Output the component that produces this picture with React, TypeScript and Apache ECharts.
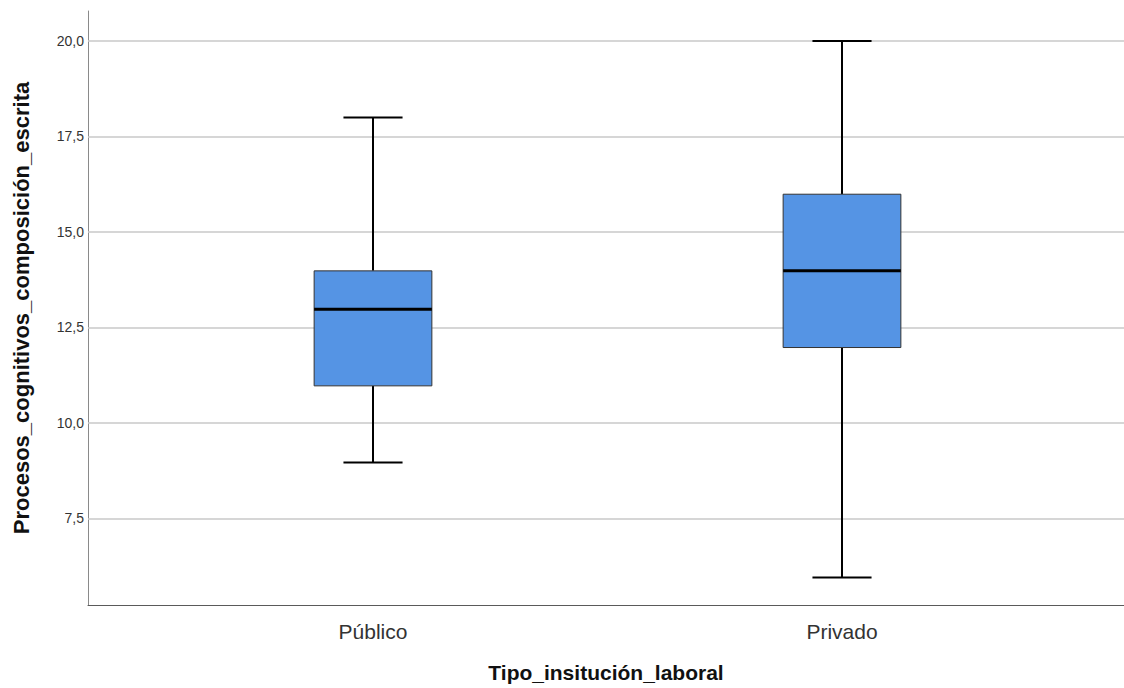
import React, { useEffect, useRef } from "react";
import * as echarts from "echarts";

const categories = ["Público", "Privado"];
// [min, Q1, median, Q3, max]
const boxStats = [
  [9, 11, 13, 14, 18],
  [6, 12, 14, 16, 20],
];
const yTicks = [7.5, 10, 12.5, 15, 17.5, 20];
const yMin = 5.23;
const yMax = 20.78;
const yTitle = "Procesos_cognitivos_composición_escrita";
const xTitle = "Tipo_insitución_laboral";

export default function App() {
  const ref = useRef<HTMLDivElement>(null);
  useEffect(() => {
    if (!ref.current) return;
    const chart = echarts.init(ref.current, null, { renderer: "svg" });
    const fmt = (v: number) => v.toFixed(1).replace(".", ",");
    chart.setOption({
      animation: false,
      backgroundColor: "#ffffff",
      grid: [
        { left: 88, top: 11, width: 1036, height: 596 },
        { left: 138.5, top: 11, width: 938, height: 596 },
      ],
      xAxis: [
        {
          type: "value",
          gridIndex: 0,
          min: 0,
          max: 1,
          axisLine: { show: true, lineStyle: { color: "#5a5a5a", width: 1 } },
          axisTick: { show: false },
          axisLabel: { show: false },
          splitLine: { show: false },
          name: xTitle,
          nameLocation: "middle",
          nameGap: 57,
          nameTextStyle: { fontFamily: "Liberation Sans, Arial", fontSize: 21, fontWeight: "bold", color: "#111" },
        },
        {
          type: "category",
          gridIndex: 1,
          data: categories,
          axisLine: { show: false },
          axisTick: { show: false },
          axisLabel: { fontFamily: "Liberation Sans, Arial", fontSize: 21, color: "#333", margin: 14 },
          splitLine: { show: false },
        },
      ],
      yAxis: [
        {
          type: "value",
          gridIndex: 0,
          min: yMin,
          max: yMax,
          axisLine: { show: true, lineStyle: { color: "#8a8a8a", width: 1 } },
          axisTick: { show: false, customValues: yTicks },
          axisLabel: {
            customValues: yTicks,
            formatter: (v: number) => fmt(v),
            fontFamily: "Liberation Sans, Arial",
            fontSize: 14,
            color: "#333",
            margin: 4,
          },
          splitLine: { show: false },
          name: yTitle,
          nameLocation: "middle",
          nameGap: 56,
          nameTextStyle: { fontFamily: "Liberation Sans, Arial", fontSize: 22, fontWeight: "bold", color: "#111" },
        },
        {
          type: "value",
          gridIndex: 1,
          min: yMin,
          max: yMax,
          show: false,
        },
      ],
      series: [
        {
          type: "line",
          xAxisIndex: 0,
          yAxisIndex: 0,
          data: [],
          silent: true,
          z: 1,
          markLine: {
            silent: true,
            symbol: ["none", "none"],
            label: { show: false },
            lineStyle: { color: "#c8c8c8", width: 1.5, type: "solid" },
            data: yTicks.map((v) => ({ yAxis: v })),
          },
        },
        {
          type: "custom",
          xAxisIndex: 1,
          yAxisIndex: 1,
          z: 5,
          data: boxStats.map((s, i) => [i, ...s]),
          encode: { x: 0, y: [1, 2, 3, 4, 5] },
          renderItem: (params: any, api: any) => {
            const idx = api.value(0);
            const pMin = api.coord([idx, api.value(1)]);
            const pQ1 = api.coord([idx, api.value(2)]);
            const pMed = api.coord([idx, api.value(3)]);
            const pQ3 = api.coord([idx, api.value(4)]);
            const pMax = api.coord([idx, api.value(5)]);
            const band = api.size([1, 0])[0];
            const boxW = band * 0.251;
            const capW = band * 0.126;
            const cx = pMed[0];
            const black = { stroke: "#000", lineWidth: 2 };
            return {
              type: "group",
              children: [
                { type: "line", shape: { x1: cx, y1: pMax[1], x2: cx, y2: pQ3[1] }, style: black },
                { type: "line", shape: { x1: cx, y1: pQ1[1], x2: cx, y2: pMin[1] }, style: black },
                { type: "line", shape: { x1: cx - capW / 2, y1: pMax[1], x2: cx + capW / 2, y2: pMax[1] }, style: black },
                { type: "line", shape: { x1: cx - capW / 2, y1: pMin[1], x2: cx + capW / 2, y2: pMin[1] }, style: black },
                {
                  type: "rect",
                  shape: { x: cx - boxW / 2, y: pQ3[1], width: boxW, height: pQ1[1] - pQ3[1] },
                  style: { fill: "#5594e4", stroke: "#333", lineWidth: 1 },
                },
                {
                  type: "line",
                  shape: { x1: cx - boxW / 2, y1: pMed[1], x2: cx + boxW / 2, y2: pMed[1] },
                  style: { stroke: "#000", lineWidth: 3 },
                },
              ],
            };
          },
        },
      ],
    });
    return () => chart.dispose();
  }, []);
  return (
    <div
      ref={ref}
      style={{ position: "fixed", left: 0, top: 0, width: 1124, height: 688, background: "#fff" }}
    />
  );
}
